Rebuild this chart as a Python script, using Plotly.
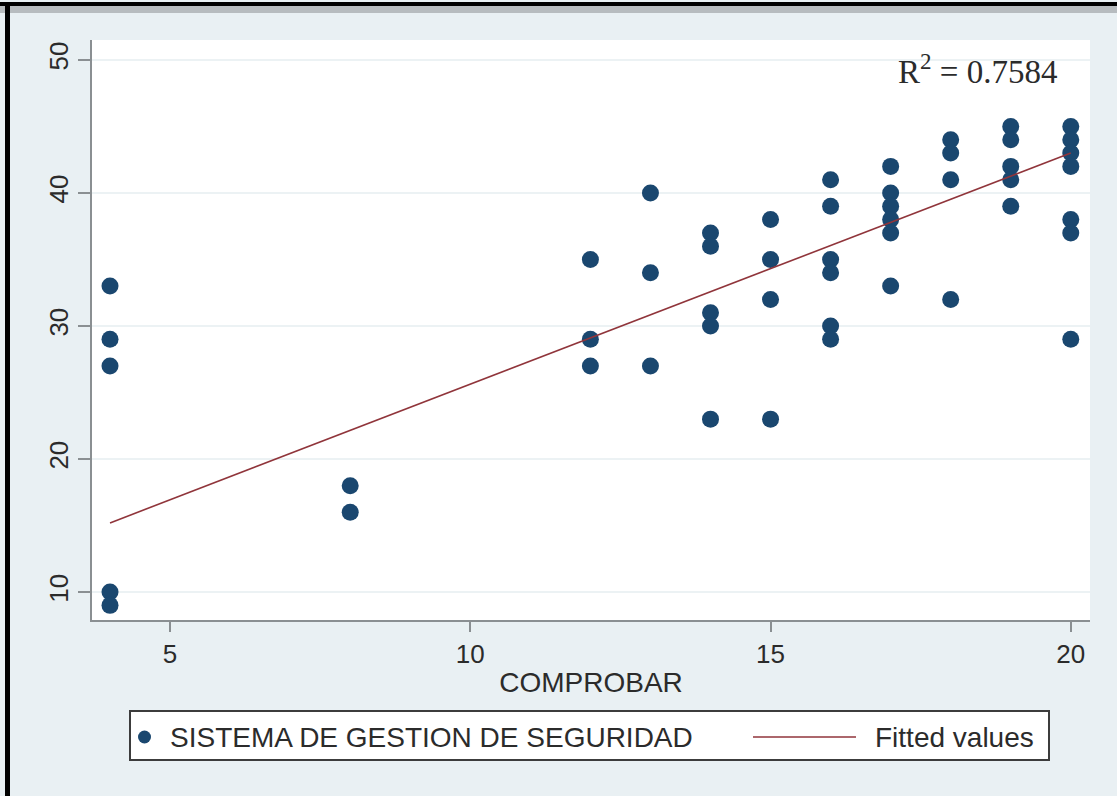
import plotly.graph_objects as go

# ---- data ----
comprobar = [4, 4, 4, 4, 4,
             8, 8,
             12, 12, 12,
             13, 13, 13,
             14, 14, 14, 14, 14,
             15, 15, 15, 15,
             16, 16, 16, 16, 16, 16,
             17, 17, 17, 17, 17, 17,
             18, 18, 18, 18,
             19, 19, 19, 19, 19,
             20, 20, 20, 20, 20, 20, 20]
sistema = [33, 29, 27, 10, 9,
           18, 16,
           35, 29, 27,
           40, 34, 27,
           37, 36, 31, 30, 23,
           38, 35, 32, 23,
           41, 39, 35, 34, 30, 29,
           42, 40, 39, 38, 37, 33,
           44, 43, 41, 32,
           45, 44, 42, 41, 39,
           45, 44, 43, 42, 38, 37, 29]
fit_x = [4, 20]
fit_y = [15.2, 43.0]
x_ticks = [5, 10, 15, 20]
y_ticks = [10, 20, 30, 40, 50]
series_name = "SISTEMA DE GESTION DE SEGURIDAD"
fit_name = "Fitted values"
x_title = "COMPROBAR"
r2_text = "R<sup>2</sup> = 0.7584"

# ---- layout geometry (pixels) ----
W, H = 1117, 796
L, R, T, B = 92, 1090, 40, 620
pw, ph = R - L, B - T

def px(xp):
    return (xp - L) / pw

def py(yp):
    return (B - yp) / ph

BG = "#e9f0f3"
NAVY = "#1a476f"
MAROON = "#90353b"
AX = "#8a8f92"
TXT = "#2b2b2b"
SANS = "Liberation Sans, Arial, sans-serif"

fig = go.Figure()
fig.add_trace(go.Scatter(
    x=comprobar, y=sistema, mode="markers", name=series_name,
    marker=dict(color=NAVY, size=17, line=dict(width=0)),
))
fig.add_trace(go.Scatter(
    x=fit_x, y=fit_y, mode="lines", name=fit_name,
    line=dict(color=MAROON, width=1.6),
))

# legend drawn in Stata style (box, long line key)
LEG_Y = 737
shapes = [
    dict(type="rect", xref="paper", yref="paper", x0=px(0), x1=px(W), y0=py(13), y1=py(5),
         fillcolor="#b7bcbf", line=dict(width=0), layer="above"),
    dict(type="rect", xref="paper", yref="paper", x0=px(0), x1=px(W), y0=py(6), y1=py(2),
         fillcolor="black", line=dict(width=0), layer="above"),
    dict(type="rect", xref="paper", yref="paper", x0=px(5), x1=px(10), y0=py(H), y1=py(2),
         fillcolor="black", line=dict(width=0), layer="above"),
    dict(type="rect", xref="paper", yref="paper", x0=px(130), x1=px(1049), y0=py(760), y1=py(711),
         fillcolor="white", line=dict(color="#3c3c3c", width=2)),
    dict(type="circle", xref="paper", yref="paper", x0=px(138), x1=px(151), y0=py(LEG_Y + 6.5),
         y1=py(LEG_Y - 6.5), fillcolor=NAVY, line=dict(width=0)),
    dict(type="line", xref="paper", yref="paper", x0=px(753), x1=px(856), y0=py(LEG_Y),
         y1=py(LEG_Y), line=dict(color=MAROON, width=1.6)),
]
annotations = [
    dict(x=px(1059), y=py(69), xref="paper", yref="paper", text=r2_text,
         showarrow=False, xanchor="right", yanchor="middle",
         font=dict(family="Liberation Serif, Times New Roman, serif", size=33, color=TXT)),
    dict(x=px(168), y=py(LEG_Y), xref="paper", yref="paper", text=series_name,
         showarrow=False, xanchor="left", yanchor="middle",
         font=dict(family=SANS, size=28, color=TXT)),
    dict(x=px(873), y=py(LEG_Y), xref="paper", yref="paper", text=fit_name,
         showarrow=False, xanchor="left", yanchor="middle",
         font=dict(family=SANS, size=28, color=TXT)),
]

fig.update_layout(
    width=W, height=H,
    margin=dict(l=L, r=W - R, t=T, b=H - B, autoexpand=False),
    paper_bgcolor=BG, plot_bgcolor="white",
    font=dict(family=SANS, color=TXT, size=26),
    showlegend=False,
    xaxis=dict(
        range=[3.7, 20.32], tickvals=x_ticks, showgrid=False, zeroline=False,
        showline=True, linecolor=AX, linewidth=2,
        ticks="outside", ticklen=10, tickcolor=AX, tickwidth=2,
        tickfont=dict(size=26, color=TXT),
        title=dict(text=x_title, font=dict(size=28, color=TXT), standoff=4),
    ),
    yaxis=dict(
        range=[7.9, 51.5], tickvals=y_ticks, showgrid=True, gridcolor="#ecf2f4",
        gridwidth=2, zeroline=False,
        showline=True, linecolor=AX, linewidth=2,
        ticks="outside", ticklen=12, tickcolor=AX, tickwidth=2,
        tickangle=-90, tickfont=dict(size=26, color=TXT),
    ),
    annotations=annotations,
    shapes=shapes,
)

fig.write_html(
    "out.html",
    config={"displayModeBar": False},
    post_script="document.body.style.margin='0';document.body.style.overflow='hidden';",
)
